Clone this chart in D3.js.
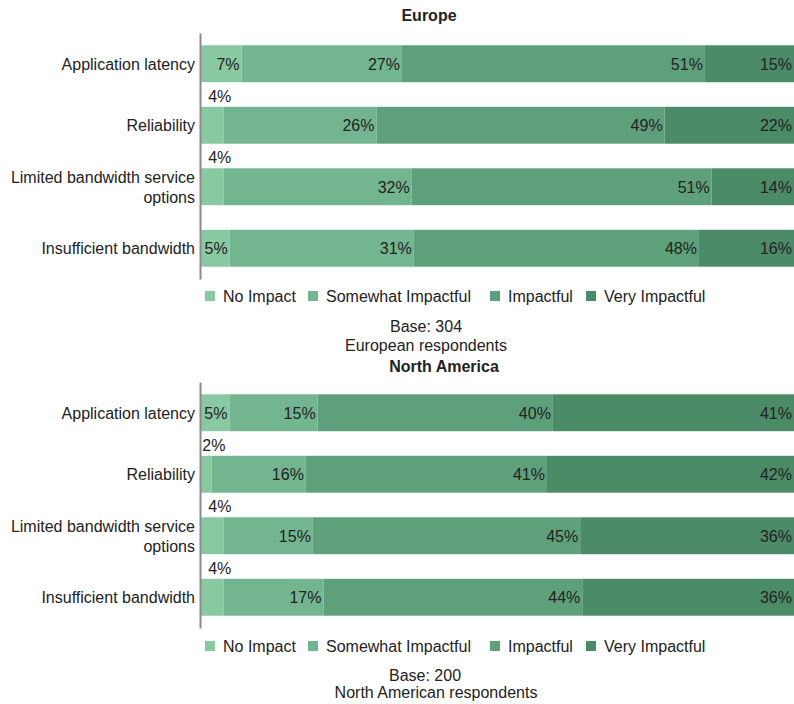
<!DOCTYPE html>
<html>
<head>
<meta charset="utf-8">
<script src="https://cdn.jsdelivr.net/npm/d3@7"></script>
<style>
  body { margin: 0; background: #fff; }
  svg text { font-family: "Liberation Sans", Arial, sans-serif; fill: #222; }
</style>
</head>
<body>
<div id="chart"></div>
<script>
const categories = ["Application latency", "Reliability", "Limited bandwidth service options", "Insufficient bandwidth"];
const seriesNames = ["No Impact", "Somewhat Impactful", "Impactful", "Very Impactful"];
const colors = ["#88c9a2", "#73b591", "#5ea07c", "#4b8b67"];

// Europe (base 304)
const euNoImpact = [7, 4, 4, 5];
const euSomewhat = [27, 26, 32, 31];
const euImpactful = [51, 49, 51, 48];
const euVery = [15, 22, 14, 16];

// North America (base 200)
const naNoImpact = [5, 2, 4, 4];
const naSomewhat = [15, 16, 15, 17];
const naImpactful = [40, 41, 45, 44];
const naVery = [41, 42, 36, 36];

const width = 794, height = 704;
const left = 200, right = 794;

const svg = d3.select("#chart").append("svg")
  .attr("width", width)
  .attr("height", height);

const x = d3.scaleLinear().domain([0, 1]).range([left, right]);
const color = d3.scaleOrdinal().domain(seriesNames).range(colors);

function wrap(text, w) {
  text.each(function () {
    const t = d3.select(this);
    const words = t.text().split(/\s+/);
    const xx = t.attr("x");
    let lines = [[]];
    t.text(null);
    const probe = t.append("tspan").attr("x", xx);
    words.forEach((word) => {
      const cur = lines[lines.length - 1];
      probe.text(cur.concat(word).join(" "));
      if (cur.length && probe.node().getComputedTextLength() > w) lines.push([word]);
      else cur.push(word);
    });
    probe.remove();
    const lh = 20;
    lines.forEach((l, i) => {
      t.append("tspan")
        .attr("x", xx)
        .attr("dy", i === 0 ? (-(lines.length - 1) * lh / 2 + 6) + "px" : lh + "px")
        .text(l.join(" "));
    });
  });
}

function drawPanel(opts) {
  const rows = categories.map((c, i) => ({
    category: c,
    "No Impact": opts.values[0][i],
    "Somewhat Impactful": opts.values[1][i],
    "Impactful": opts.values[2][i],
    "Very Impactful": opts.values[3][i]
  }));

  const stacked = d3.stack().keys(seriesNames).offset(d3.stackOffsetExpand)(rows);

  const y = d3.scaleBand()
    .domain(categories)
    .range(opts.yRange)
    .paddingInner(0.4)
    .paddingOuter(0.2);

  const g = svg.append("g");

  // title
  g.append("text")
    .attr("x", opts.titleX)
    .attr("y", opts.titleY)
    .attr("text-anchor", "middle")
    .attr("font-size", "16px")
    .attr("font-weight", "bold")
    .text(opts.title);

  const layers = g.selectAll(".layer")
    .data(stacked)
    .enter()
    .append("g")
    .attr("class", "layer")
    .attr("fill", (d) => color(d.key));

  layers.selectAll("rect")
    .data((d) => d)
    .enter()
    .append("rect")
    .attr("x", (d) => x(d[0]))
    .attr("y", (d) => y(d.data.category))
    .attr("width", (d) => x(d[1]) - x(d[0]))
    .attr("height", y.bandwidth());

  // value labels (small shares go above the bar)
  stacked.forEach((layer) => {
    layer.forEach((d) => {
      const v = d.data[layer.key];
      const small = v < 5;
      g.append("text")
        .attr("x", small ? (x(d[0]) + x(d[1])) / 2 + 8 : x(d[1]) - 2)
        .attr("y", small ? y(d.data.category) - 5 : y(d.data.category) + y.bandwidth() / 2 + 6)
        .attr("text-anchor", small ? "middle" : "end")
        .attr("font-size", "16px")
        .text(v + "%");
    });
  });

  // category axis
  const axis = g.append("g")
    .attr("transform", `translate(${left},0)`)
    .call(d3.axisLeft(y).tickSize(0).tickPadding(5));
  axis.select(".domain").attr("stroke", "#8a8a8a").attr("stroke-width", 2);
  axis.selectAll("text")
    .attr("font-size", "16px")
    .attr("fill", "#222")
    .attr("dy", null)
    .call(wrap, 190);

  // legend
  const lg = g.selectAll(".legend")
    .data(seriesNames)
    .enter()
    .append("g")
    .attr("class", "legend")
    .attr("transform", (d, i) => `translate(${opts.legendX[i]},${opts.legendY})`);
  lg.append("rect")
    .attr("x", 0)
    .attr("y", -5)
    .attr("width", 10)
    .attr("height", 10)
    .attr("fill", (d) => color(d));
  lg.append("text")
    .attr("x", 18)
    .attr("y", 5.5)
    .attr("font-size", "16px")
    .text((d) => d);

  // base note
  opts.notes.forEach((n) => {
    g.append("text")
      .attr("x", n[1])
      .attr("y", n[2])
      .attr("text-anchor", "middle")
      .attr("font-size", "16px")
      .text(n[0]);
  });
}

drawPanel({
  title: "Europe",
  titleX: 429,
  titleY: 21,
  values: [euNoImpact, euSomewhat, euImpactful, euVery],
  yRange: [33, 279],
  legendX: [205, 308, 490, 586],
  legendY: 296,
  notes: [["Base: 304", 426, 332], ["European respondents", 426, 351]]
});

drawPanel({
  title: "North America",
  titleX: 444,
  titleY: 372,
  values: [naNoImpact, naSomewhat, naImpactful, naVery],
  yRange: [382, 628],
  legendX: [205, 308, 490, 586],
  legendY: 646,
  notes: [["Base: 200", 425, 681], ["North American respondents", 436, 698]]
});
</script>
</body>
</html>
